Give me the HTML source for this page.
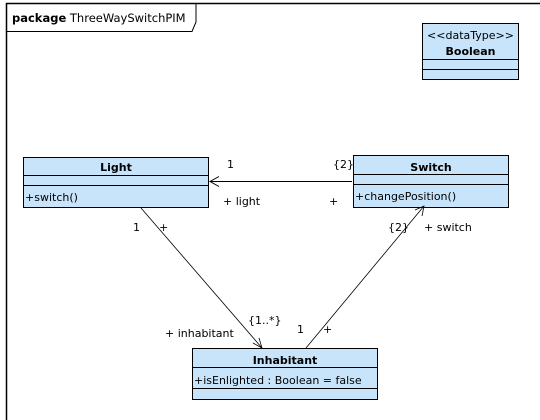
<!DOCTYPE html>
<html><head><meta charset="utf-8"><style>
html,body{margin:0;padding:0;background:#fff;width:540px;height:420px;overflow:hidden}
svg{display:block}
text{font-family:"DejaVu Sans","Liberation Sans",sans-serif;font-size:11px;fill:#000}
.b{font-weight:bold}
</style></head><body>
<svg width="540" height="420" viewBox="0 0 540 420">
<path d="M6.5 420 V3.5 H540" fill="none" stroke="#000" stroke-width="1.5"/>
<path d="M7 31.5 H192 L196 22 V3" fill="none" stroke="#000" stroke-width="1"/>
<text x="12" y="22" style="font-size:11.5px"><tspan class="b">package</tspan> ThreeWaySwitchPIM</text>

<!-- Boolean -->
<rect x="422.5" y="23.5" width="96" height="56" fill="#c8e4fa" stroke="#000"/>
<line x1="423" y1="59.5" x2="518" y2="59.5" stroke="#000"/>
<line x1="423" y1="69.5" x2="518" y2="69.5" stroke="#000"/>
<text x="470.5" y="39" text-anchor="middle">&lt;&lt;dataType&gt;&gt;</text>
<text x="470.5" y="55" text-anchor="middle" class="b">Boolean</text>

<!-- Light -->
<rect x="23.5" y="157.5" width="185" height="50" fill="#c8e4fa" stroke="#000"/>
<line x1="24" y1="175.5" x2="208" y2="175.5" stroke="#000"/>
<line x1="24" y1="185.5" x2="208" y2="185.5" stroke="#000"/>
<text x="116" y="171" text-anchor="middle" class="b">Light</text>
<text x="25" y="201">+switch()</text>

<!-- Switch -->
<rect x="353.5" y="155.5" width="155" height="52" fill="#c8e4fa" stroke="#000"/>
<line x1="354" y1="174.5" x2="508" y2="174.5" stroke="#000"/>
<line x1="354" y1="184.5" x2="508" y2="184.5" stroke="#000"/>
<text x="431" y="171" text-anchor="middle" class="b">Switch</text>
<text x="355" y="200">+changePosition()</text>

<!-- Inhabitant -->
<rect x="192.5" y="348.5" width="185" height="51" fill="#c8e4fa" stroke="#000"/>
<line x1="193" y1="367.5" x2="377" y2="367.5" stroke="#000"/>
<line x1="193" y1="388.5" x2="377" y2="388.5" stroke="#000"/>
<text x="285" y="364" text-anchor="middle" class="b">Inhabitant</text>
<text x="194" y="384">+isEnlighted : Boolean = false</text>

<!-- Switch -> Light -->
<line x1="352" y1="181.5" x2="210" y2="181.5" stroke="#000"/>
<path d="M219 176.5 L210 181.5 L219 186.5" fill="none" stroke="#000"/>
<!-- Light -> Inhabitant -->
<line x1="141" y1="208" x2="262" y2="348" stroke="#000" stroke-width="0.8"/>
<path d="M253 343 L262 348 L259 338" fill="none" stroke="#000" stroke-width="0.8"/>
<!-- Inhabitant -> Switch -->
<line x1="306" y1="348" x2="424" y2="206" stroke="#000" stroke-width="0.8"/>
<path d="M415 210 L424 206 L422 216" fill="none" stroke="#000" stroke-width="0.8"/>

<text x="227" y="168">1</text>
<text x="333" y="168">{2}</text>
<text x="223" y="205">+ light</text>
<text x="329" y="205">+</text>
<text x="133" y="231">1</text>
<text x="159" y="231">+</text>
<text x="388" y="231">{2}</text>
<text x="424" y="231">+ switch</text>
<text x="248" y="324">{1..*}</text>
<text x="165" y="337">+ inhabitant</text>
<text x="297" y="333">1</text>
<text x="323" y="333">+</text>
</svg>
</body></html>
